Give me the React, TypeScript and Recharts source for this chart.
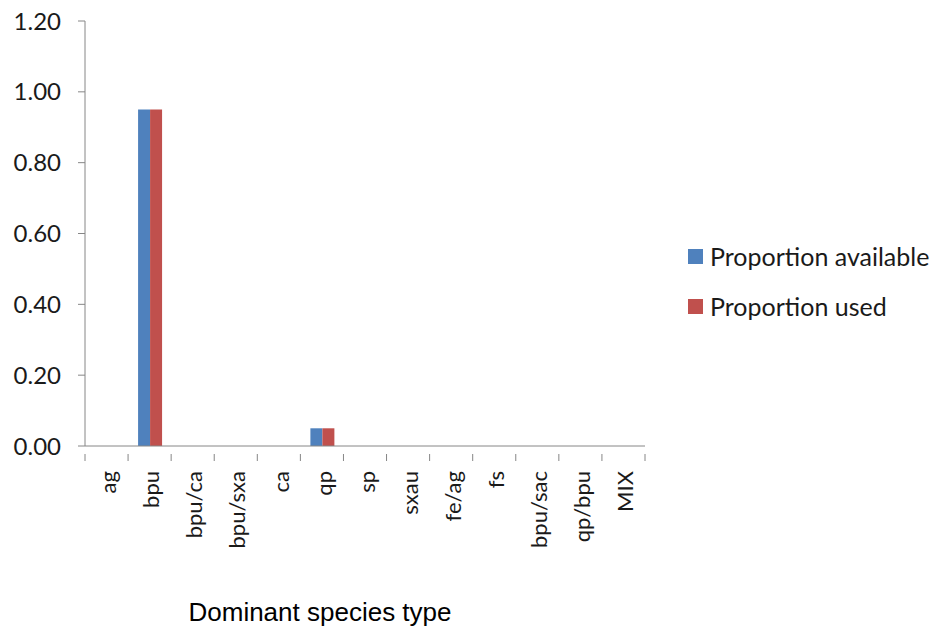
import React from 'react'
import { BarChart, Bar, XAxis, YAxis, Legend } from 'recharts'

// species codes along the x axis
const species = ['ag', 'bpu', 'bpu/ca', 'bpu/sxa', 'ca', 'qp', 'sp', 'sxau', 'fe/ag', 'fs', 'bpu/sac', 'qp/bpu', 'MIX']
const proportionAvailable = [0, 0.95, 0, 0, 0, 0.05, 0, 0, 0, 0, 0, 0, 0]
const proportionUsed = [0, 0.95, 0, 0, 0, 0.05, 0, 0, 0, 0, 0, 0, 0]
const yTicks = [0, 0.2, 0.4, 0.6, 0.8, 1.0, 1.2]

const data = species.map((name, i) => ({
  name,
  available: proportionAvailable[i],
  used: proportionUsed[i],
}))

const W = 931
const H = 628
const LEGEND_W = 243
// the legend adds its own width to the right margin
const MARGIN = { top: 21, right: 286 - LEGEND_W, left: 25, bottom: 0 }
const Y_AXIS_W = 60
const X_AXIS_H = 182
const PLOT_W = W - MARGIN.left - 286 - Y_AXIS_W
const BAND = PLOT_W / species.length

const AXIS_COLOR = '#868686'
const FONT = 'Lato, "Liberation Sans", sans-serif'

// rotated category label plus a tick mark on the band boundary
const SpeciesTick = (props: any) => {
  const { x, y, payload, index } = props
  const left = x - BAND / 2
  const isLast = index === species.length - 1
  return (
    <g>
      <line x1={left} y1={y} x2={left} y2={y + 7} stroke={AXIS_COLOR} />
      {isLast && <line x1={x + BAND / 2} y1={y} x2={x + BAND / 2} y2={y + 7} stroke={AXIS_COLOR} />}
      <text
        x={x + 2}
        y={y + 17}
        transform={`rotate(-90, ${x + 2}, ${y + 17})`}
        textAnchor="end"
        dy="0.35em"
        fontSize={22}
        fontFamily={FONT}
        fill="#1a1a1a"
      >
        {payload.value}
      </text>
    </g>
  )
}

const LegendBox = (props: any) => {
  const { payload } = props
  return (
    <div style={{ fontFamily: FONT, fontSize: 25, color: '#1a1a1a', width: LEGEND_W }}>
      {payload.map((p: any) => (
        <div key={p.value} style={{ display: 'flex', alignItems: 'center', height: 50 }}>
          <span style={{ width: 15, height: 15, background: p.color, marginRight: 7, display: 'inline-block' }} />
          <span>{p.value}</span>
        </div>
      ))}
    </div>
  )
}

export default function App() {
  return (
    <div style={{ position: 'absolute', left: 0, top: 0, width: W, height: H, background: '#fff' }}>
      <BarChart width={W} height={H} data={data} margin={MARGIN} barGap={0} barSize={12}>
        <XAxis
          dataKey="name"
          height={X_AXIS_H}
          interval={0}
          axisLine={{ stroke: AXIS_COLOR }}
          tickLine={false}
          tick={<SpeciesTick />}
          label={{
            value: 'Dominant species type',
            position: 'insideBottom',
            offset: 7,
            dx: -45,
            fontSize: 26,
            fontFamily: '"Liberation Sans", Arial, sans-serif',
            fill: '#000',
          }}
        />
        <YAxis
          width={Y_AXIS_W}
          domain={[0, 1.2]}
          ticks={yTicks}
          tickFormatter={(v: number) => v.toFixed(2)}
          axisLine={{ stroke: AXIS_COLOR }}
          tickLine={{ stroke: AXIS_COLOR }}
          tickSize={7}
          tickMargin={17}
          tick={{ fontSize: 24, fontFamily: FONT, fill: '#1a1a1a' }}
        />
        <Legend
          layout="vertical"
          align="right"
          verticalAlign="middle"
          content={<LegendBox />}
          wrapperStyle={{ left: 688, top: 231, width: LEGEND_W }}
        />
        <Bar dataKey="available" name="Proportion available" fill="#4F81BD" isAnimationActive={false} />
        <Bar dataKey="used" name="Proportion used" fill="#C0504D" isAnimationActive={false} />
      </BarChart>
    </div>
  )
}
